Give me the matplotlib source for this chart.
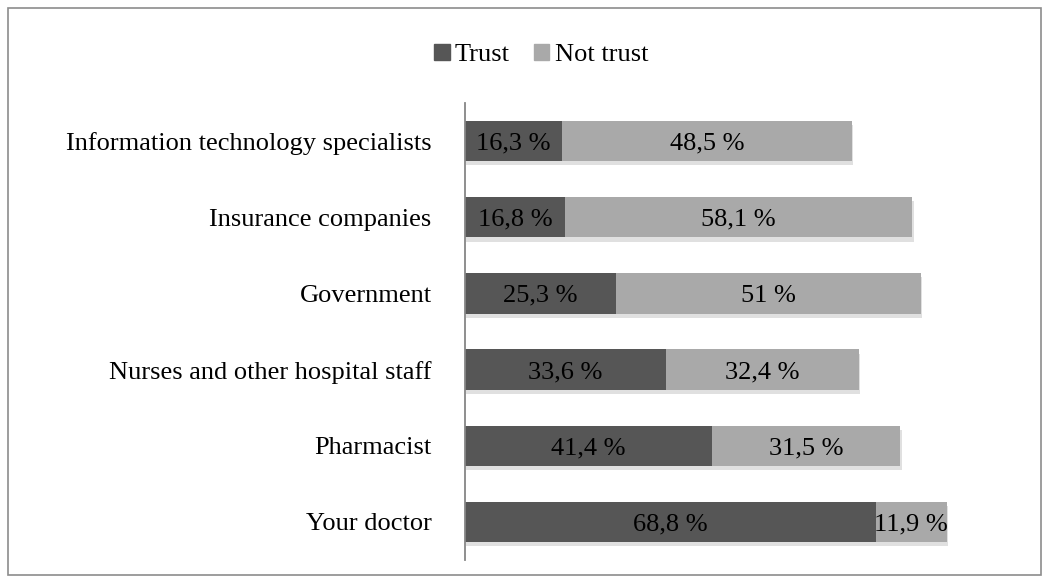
import matplotlib.pyplot as plt
import matplotlib.patches as patches
import matplotlib.patheffects as pe

categories = ["Information technology specialists", "Insurance companies",
              "Government", "Nurses and other hospital staff",
              "Pharmacist", "Your doctor"]
trust = [16.3, 16.8, 25.3, 33.6, 41.4, 68.8]
not_trust = [48.5, 58.1, 51.0, 32.4, 31.5, 11.9]
trust_labels = ["16,3 %", "16,8 %", "25,3 %", "33,6 %", "41,4 %", "68,8 %"]
not_trust_labels = ["48,5 %", "58,1 %", "51 %", "32,4 %", "31,5 %", "11,9 %"]

plt.rcParams['font.family'] = ['Liberation Serif', 'DejaVu Serif']

W, H = 1049, 581
fig = plt.figure(figsize=(W / 100, H / 100), dpi=100)

# outer frame
fig.patches.append(patches.Rectangle((8 / W, 6 / H), 1033 / W, 567 / H,
                                     transform=fig.transFigure, fill=False,
                                     edgecolor='#8c8c8c', linewidth=1.2))

xmax = 90
left, right = 465 / W, (465 + xmax * 5.97) / W
top, bottom = 1 - 103 / H, 1 - 560 / H
ax = fig.add_axes([left, bottom, right - left, top - bottom])

y = list(range(len(categories)))[::-1]
shadow = [pe.SimplePatchShadow(offset=(1, -3), shadow_rgbFace='#000000', alpha=0.12),
          pe.Normal()]
b1 = ax.barh(y, trust, height=0.53, color='#565656')
b2 = ax.barh(y, not_trust, left=trust, height=0.53, color='#a9a9a9')
for b in list(b1) + list(b2):
    b.set_path_effects(shadow)

fs = 19
for yi, t, n, tl, nl in zip(y, trust, not_trust, trust_labels, not_trust_labels):
    ax.text(t / 2, yi, tl, ha='center', va='center_baseline', fontsize=fs, color='black')
    ax.text(t + n / 2, yi, nl, ha='center', va='center_baseline', fontsize=fs, color='black')

ax.set_xlim(0, xmax)
ax.set_ylim(-0.5, 5.5)
ax.set_yticks(y)
ax.set_yticklabels(categories, fontsize=fs)
for lab in ax.get_yticklabels():
    lab.set_verticalalignment('center_baseline')
ax.tick_params(axis='y', length=0, pad=24)
ax.set_xticks([])
for s in ['top', 'right', 'bottom']:
    ax.spines[s].set_visible(False)
ax.spines['left'].set_color('#868686')
ax.spines['left'].set_linewidth(1.3)

handles = [patches.Patch(color='#565656', label='Trust'),
           patches.Patch(color='#a9a9a9', label='Not trust')]
fig.legend(handles=handles, loc='center', bbox_to_anchor=(541 / W, 1 - 55 / H),
           ncol=2, frameon=False, fontsize=fs, handlelength=0.6, handleheight=0.6,
           handletextpad=0.2, columnspacing=0.9)

fig.savefig('out.png', dpi=100)
